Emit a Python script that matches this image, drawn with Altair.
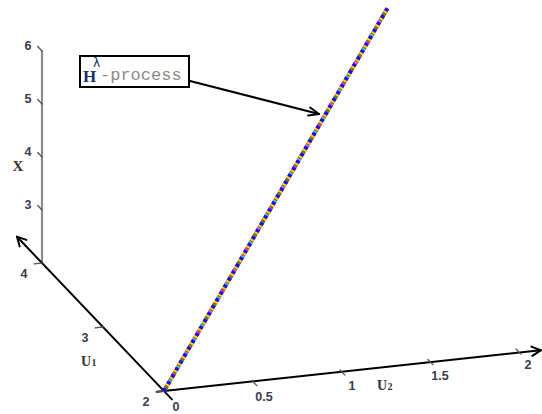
import math
import altair as alt
import pandas as pd

W, H = 542, 414

# Tick values along the three axes
u1_ticks = [2, 3, 4]
u2_ticks = [0, 0.5, 1, 1.5, 2]
u2_tick_labels = ["0", "0.5", "1", "1.5", "2"]
x_ticks = [3, 4, 5, 6]

# Sample path of the process in (U1, U2, X)
path_u1 = [2, 2]
path_u2 = [0, 1.27]
path_x = [2, 8.72]

# Overlapping trajectories: (colour, dash pattern, dash offset)
path_styles = [
    ("#ff2a2a", [8, 0], 0),
    ("#f0e000", [2, 6], 2),
    ("#1ad0d0", [2, 14], 5),
    ("#2a9a2a", [2, 14], 13),
    ("#ff2bff", [2, 22], 6),
    ("#1010ee", [3, 5], 0),
]

# Oblique projection of (U1, U2, X) onto the page
ORIGIN = (164.0, 391.0)          # page position of U1=2, U2=0, X=2
E_U1 = (-61.0, -64.0)
E_U2 = (176.0, -21.0)
E_X = (0.0, -53.0)


def proj(u1, u2, x):
    px = ORIGIN[0] + (u1 - 2) * E_U1[0] + u2 * E_U2[0] + (x - 2) * E_X[0]
    py = ORIGIN[1] + (u1 - 2) * E_U1[1] + u2 * E_U2[1] + (x - 2) * E_X[1]
    return px, py


def seg(p, q, **kw):
    d = {"x": p[0], "y": p[1], "x2": q[0], "y2": q[1]}
    d.update(kw)
    return d


def arrow_head(tail, tip, length=10, spread=28):
    ang = math.atan2(tail[1] - tip[1], tail[0] - tip[0])
    out = []
    for s in (-1, 1):
        a = ang + s * math.radians(spread)
        out.append(seg(tip, (tip[0] + length * math.cos(a), tip[1] + length * math.sin(a))))
    return out


xs = alt.Scale(domain=[0, W], nice=False, zero=False)
ys = alt.Scale(domain=[0, H], nice=False, zero=False, reverse=True)


def rules(rows, color, width):
    return alt.Chart(pd.DataFrame(rows)).mark_rule(
        color=color, strokeWidth=width, strokeCap="round"
    ).encode(
        x=alt.X("x:Q", scale=xs, axis=None),
        y=alt.Y("y:Q", scale=ys, axis=None),
        x2="x2:Q", y2="y2:Q",
    )


def texts(rows, **mark):
    return alt.Chart(pd.DataFrame(rows)).mark_text(**mark).encode(
        x=alt.X("x:Q", scale=xs, axis=None),
        y=alt.Y("y:Q", scale=ys, axis=None),
        text="t:N",
    )


# Axis lines
x_axis = [seg(proj(4, 0, 2), proj(4, 0, 6))]
u1_tail, u1_tip = proj(1.87, 0, 2), proj(4.41, 0, 2)
u2_tail, u2_tip = proj(2, -0.04, 2), proj(2, 2.14, 1.92)
black_axes = [seg(u1_tail, u1_tip), seg(u2_tail, u2_tip)]
black_axes += arrow_head(u1_tail, u1_tip) + arrow_head(u2_tail, u2_tip)

# Tick marks
tick_rows = []
for v in x_ticks:
    tick_rows.append(seg(proj(4, 0, v), proj(4.07, 0, v)))
for v in u1_ticks:
    tick_rows.append(seg(proj(v, 0, 2), proj(v, -0.045, 2)))
for v in u2_ticks[1:]:
    tick_rows.append(seg(proj(2, v, 2), proj(1.92, v, 2)))

# Tick labels
label_rows = []
for v in x_ticks:
    px, py = proj(4, 0, v)
    label_rows.append({"x": px - 14, "y": py - 5, "t": str(v)})
for v in u1_ticks:
    px, py = proj(v, 0, 2)
    label_rows.append({"x": px - 18, "y": py + 11, "t": str(v)})
for v, t in zip(u2_ticks, u2_tick_labels):
    px, py = proj(2, v, 2)
    label_rows.append({"x": px + 12, "y": py + 16, "t": t})

# Process path, drawn as interleaved coloured dashes
path_df = pd.DataFrame({
    "x": [proj(a, b, c)[0] for a, b, c in zip(path_u1, path_u2, path_x)],
    "y": [proj(a, b, c)[1] for a, b, c in zip(path_u1, path_u2, path_x)],
    "k": list(range(len(path_u1))),
})
path_layers = [
    alt.Chart(path_df).mark_line(
        color=c, strokeWidth=4, strokeDash=dash, strokeDashOffset=off
    ).encode(
        x=alt.X("x:Q", scale=xs, axis=None),
        y=alt.Y("y:Q", scale=ys, axis=None),
        order="k:Q",
    )
    for c, dash, off in path_styles
]

# Annotation box with pointer
box = alt.Chart(pd.DataFrame([{"x": 80, "x2": 189, "y": 56, "y2": 87}])).mark_rect(
    fill="white", stroke="black", strokeWidth=2
).encode(
    x=alt.X("x:Q", scale=xs, axis=None), x2="x2:Q",
    y=alt.Y("y:Q", scale=ys, axis=None), y2="y2:Q",
)
ptr_tail, ptr_tip = (190, 81), (319, 114)
pointer = [seg(ptr_tail, ptr_tip)] + arrow_head(ptr_tail, ptr_tip, length=11, spread=22)

serif_lbl = dict(font="Liberation Serif", fontWeight="bold", color="#3a3030",
                 align="center", baseline="alphabetic")

layers = [
    rules(x_axis, "#8c8c8c", 2.2),
    rules(black_axes, "black", 2),
    rules(tick_rows, "#555555", 1.3),
    *path_layers,
    rules(pointer, "black", 2),
    box,
    texts(label_rows, font="Liberation Sans", fontSize=12.5, fontWeight="bold",
          color="#3a3a4c", align="center", baseline="middle"),
    texts([{"x": 18, "y": 171, "t": "X"}], fontSize=15, **serif_lbl),
    texts([{"x": 86, "y": 366, "t": "U"}, {"x": 382, "y": 390, "t": "U"}],
          fontSize=14, **serif_lbl),
    texts([{"x": 94, "y": 366, "t": "1"}, {"x": 390, "y": 390, "t": "2"}],
          fontSize=10, **serif_lbl),
    texts([{"x": 83, "y": 82, "t": "H"}], font="Liberation Serif", fontSize=17,
          fontWeight="bold", color="#1b2d66", align="left", baseline="alphabetic"),
    texts([{"x": 93, "y": 67, "t": "λ"}], font="DejaVu Sans", fontSize=12,
          color="#1b2d66", align="left", baseline="alphabetic"),
    texts([{"x": 100, "y": 80, "t": "-process"}], font="Liberation Mono", fontSize=17,
          color="#8a8a8a", align="left", baseline="alphabetic"),
]

chart = alt.layer(*layers).properties(
    width=W, height=H, padding=0, autosize="none", background="white"
).configure_view(stroke=None)

chart.save("out.html", embed_options={"renderer": "svg", "actions": False})
